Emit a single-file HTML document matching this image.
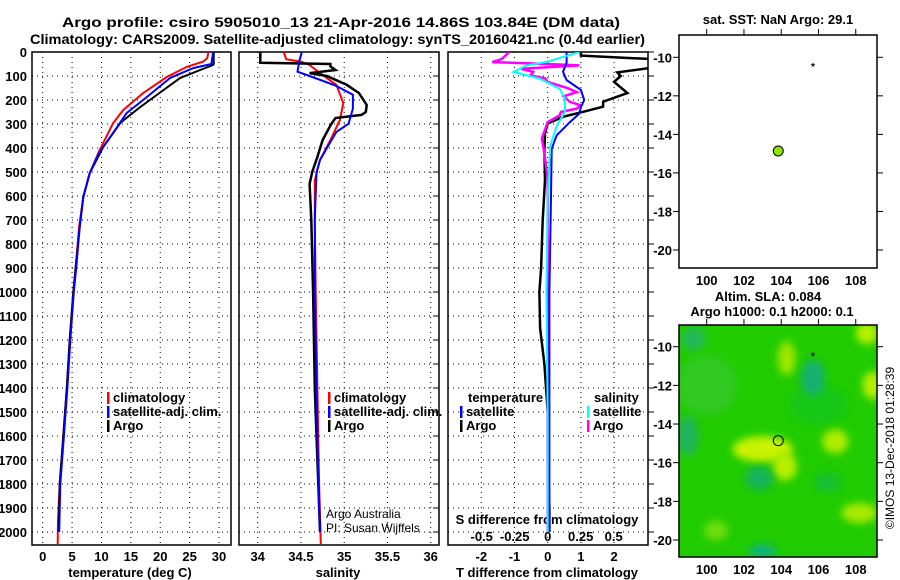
<!DOCTYPE html>
<html><head><meta charset="utf-8"><style>
html,body{margin:0;padding:0;background:#fff}
svg{display:block;font-family:"Liberation Sans",sans-serif}
.b{font-weight:bold}
</style></head><body>
<svg id="s" width="900" height="580" viewBox="0 0 900 580" xmlns="http://www.w3.org/2000/svg">
<defs>
<clipPath id="c1"><rect x="32" y="52" width="199" height="493"/></clipPath>
<clipPath id="c2"><rect x="239" y="52" width="200" height="493"/></clipPath>
<clipPath id="c3"><rect x="448" y="52" width="200" height="493"/></clipPath>
<clipPath id="cm2"><rect x="679" y="325" width="198" height="232"/></clipPath>
<filter id="bl" x="-50%" y="-50%" width="200%" height="200%"><feGaussianBlur stdDeviation="4"/></filter>
</defs>
<text x="62" y="27" textLength="558" lengthAdjust="spacingAndGlyphs" class="b" font-size="14">Argo profile: csiro 5905010_13 21-Apr-2016 14.86S 103.84E (DM data)</text>
<text x="30" y="44" textLength="615" lengthAdjust="spacingAndGlyphs" class="b" font-size="14">Climatology: CARS2009. Satellite-adjusted climatology: synTS_20160421.nc (0.4d earlier)</text>
<g id="g"></g>
</svg>
<script>
// ---- data ----
const depthTicks = [0,100,200,300,400,500,600,700,800,900,1000,1100,1200,1300,1400,1500,1600,1700,1800,1900,2000];
const tempTicks = [0,5,10,15,20,25,30];
const salTicks = [34,34.5,35,35.5,36];
const salTickLabels = ["34","34.5","35","35.5","36"];
const tdTicks = [-2,-1,0,1,2];
const sdTicks = [-0.5,-0.25,0,0.25,0.5];
const sdTickLabels = ["-0.5","-0.25","0","0.25","0.5"];
const latTicks = [-10,-12,-14,-16,-18,-20];
const lonTicks = [100,102,104,106,108];

const tArgoDepth = [0,50,54,75,108,179,229,262,296,396,505,604,729,900,1000,1200,1400,1600,1800,2000];
const tArgo      = [29.1,29.1,29.0,26.8,23.4,19.4,16.6,14.9,13.2,10.3,8.0,6.9,6.3,5.6,5.2,4.6,4.1,3.5,2.9,2.7];
const tClimDepth = [0,25,40,62,104,171,242,296,408,505,604,729,900,1000,1200,1400,1600,1800,1950,2050];
const tClim      = [28.2,28.0,27.3,24.5,21.1,17.1,13.7,12.0,9.7,8.0,6.9,6.2,5.6,5.2,4.6,4.1,3.5,2.9,2.6,2.55];
const tSatDepth  = [0,50,67,108,188,254,354,420,505,604,729,900,1000,1200,1400,1600,1800,2000];
const tSat       = [29.0,28.7,25.6,21.7,17.7,14.3,11.5,9.6,8.0,6.9,6.3,5.7,5.3,4.7,4.2,3.6,3.0,2.8];

const sArgoDepth = [0,45,50,60,75,88,100,137,171,221,250,262,275,300,367,437,500,550,700,1000,1400,1600,1800,2000];
const sArgo      = [34.03,34.03,34.84,34.84,34.9,34.6,34.8,35.03,35.17,35.26,35.25,35.2,34.9,34.85,34.75,34.69,34.63,34.6,34.62,34.64,34.66,34.68,34.70,34.72];
const sClimDepth = [0,30,40,54,88,137,213,283,367,450,535,700,1000,1400,1800,2050];
const sClim      = [34.30,34.33,34.5,34.6,34.72,34.91,34.99,34.95,34.84,34.72,34.66,34.66,34.67,34.69,34.71,34.73];
const sSatDepth  = [0,40,82,100,140,178,236,299,333,400,450,500,700,1000,1400,1800,2000];
const sSat       = [34.51,34.48,34.46,34.6,34.9,35.1,35.1,35.05,34.91,34.8,34.72,34.68,34.66,34.66,34.68,34.70,34.72];

const dTArgoDepth = [0,15,30,64,85,100,124,171,207,228,249,270,298,340,410,535,700,900,1000,1150,1300,1500,1700,1900,2000];
const dTArgo      = [1.0,1.0,3.2,3.2,2.1,2.2,2.0,2.4,1.67,1.67,1.07,0.46,0.0,-0.08,-0.1,-0.08,-0.15,-0.2,-0.25,-0.23,-0.1,0.0,0.0,0.05,0.05];
const dTSatDepth  = [0,45,82,117,158,200,230,257,292,347,403,600,1000,1400,1800,2000];
const dTSat       = [0.57,0.57,0.46,0.57,1.0,1.1,1.0,0.95,0.67,0.27,0.12,0.1,0.05,0.05,0.05,0.05];
const dSArgoDepth = [0,30,42,50,56,70,83,97,110,125,150,167,185,208,222,236,250,264,292,361,403,528,800,1200,1600,2000];
const dSArgo      = [-0.29,-0.35,-0.42,0.0,0.24,-0.2,-0.11,-0.13,-0.02,0.0,0.15,0.22,0.12,0.17,0.25,0.22,0.1,0.09,0.0,-0.045,-0.03,0.0,0.0,0.0,0.0,0.0];
const dSSatDepth  = [0,20,40,56,83,111,153,194,250,306,389,600,1000,1500,2000];
const dSSat       = [0.24,0.12,0.0,-0.16,-0.26,-0.06,0.09,0.13,0.13,0.07,0.02,0.0,-0.01,0.0,0.0];

const floatLon = [103.84], floatLat = [-14.86];
const prevLon = [105.7], prevLat = [-10.5];

// ---- axis functions ----
const yD = d => 52 + d*0.24;
const xT = t => 42.7 + t*5.877;
const xS = s => 257.7 + (s-34)*86.5;
const xdT = v => 547.7 + v*33.2;
const xdS = v => 547.7 + v*132;
const latY1 = la => 57.3 + (-10-la)*19.27;
const latY2 = la => 346.7 + (-10-la)*19.33;
const lonX = lo => 706.7 + (lo-100)*18.63;

const NS="http://www.w3.org/2000/svg";
const G=document.getElementById('g');
function el(tag,at,parent){const e=document.createElementNS(NS,tag);for(const k in at)e.setAttribute(k,at[k]);(parent||G).appendChild(e);return e;}
function txt(x,y,s,at,parent){const e=el('text',Object.assign({x:x,y:y},at),parent);e.textContent=s;return e;}

function line(xs,ds,fx,color,w,clip,name){
  const pts=xs.map((v,i)=>fx(v).toFixed(1)+','+yD(ds[i]).toFixed(1)).join(' ');
  const p=el('polyline',{points:pts,fill:'none',stroke:color,'stroke-width':w,'clip-path':'url(#'+clip+')','stroke-linejoin':'miter'});
  
  
}

function panel(x0,x1,clip,name){
  const g=el('g',{});
  
  
  depthTicks.forEach(d=>{el('line',{x1:x0,x2:x1,y1:yD(d),y2:yD(d),stroke:'#000','stroke-width':1,'stroke-dasharray':'1,4'},g);});
  el('rect',{x:x0,y:52,width:x1-x0,height:493,fill:'none',stroke:'#000','stroke-width':1.5},g);
  return g;
}

// panel 1 temperature
const p1=panel(32,231,'c1','temperature-panel');
tempTicks.forEach(t=>{el('line',{x1:xT(t),x2:xT(t),y1:52,y2:545,stroke:'#000','stroke-dasharray':'1,4'},p1);
  const l=txt(xT(t),561,String(t),{'text-anchor':'middle','font-size':13,class:'b'},p1);
  
  });
depthTicks.forEach(d=>{const l=txt(27,yD(d)+5,String(d),{'text-anchor':'end','font-size':13,class:'b'},p1);
  
  });
const xt1=txt(130,577,'temperature (deg C)',{'text-anchor':'middle','font-size':13,class:'b'},p1);


line(tClim,tClimDepth,xT,'#f00',2,'c1','temp-climatology-line');
line(tArgo,tArgoDepth,xT,'#000',2,'c1','temp-argo-line');
line(tSat,tSatDepth,xT,'#00f',2,'c1','temp-satellite-line');

// panel 2 salinity
const p2=panel(239,439,'c2','salinity-panel');
salTicks.forEach((s,i)=>{el('line',{x1:xS(s),x2:xS(s),y1:52,y2:545,stroke:'#000','stroke-dasharray':'1,4'},p2);
  const l=txt(xS(s),561,salTickLabels[i],{'text-anchor':'middle','font-size':13,class:'b'},p2);
  
  });
depthTicks.forEach(d=>{el('line',{x1:433,x2:439,y1:yD(d),y2:yD(d),stroke:'#000'},p2);});
const xt2=txt(338,577,'salinity',{'text-anchor':'middle','font-size':13,class:'b'},p2);


line(sClim,sClimDepth,xS,'#f00',2,'c2','sal-climatology-line');
line(sArgo,sArgoDepth,xS,'#000',2.5,'c2','sal-argo-line');
line(sSat,sSatDepth,xS,'#00f',2,'c2','sal-satellite-line');
const cr1=txt(326,518,'Argo Australia',{'font-size':12},p2);


const cr2=txt(326,532,'PI: Susan Wijffels',{'font-size':12},p2);



// panel 3 differences
const p3=panel(448,648,'c3','difference-panel');
tdTicks.forEach(t=>{el('line',{x1:xdT(t),x2:xdT(t),y1:52,y2:545,stroke:'#000','stroke-dasharray':'1,4'},p3);
  const l=txt(xdT(t),561,String(t),{'text-anchor':'middle','font-size':13,class:'b'},p3);
  
  });
sdTicks.forEach((s,i)=>{const l=txt(xdS(s),541,sdTickLabels[i],{'text-anchor':'middle','font-size':13,class:'b'},p3);
  
  });
depthTicks.forEach(d=>{el('line',{x1:648,x2:654,y1:yD(d),y2:yD(d),stroke:'#000'},p3);});
const st=txt(547,524,'S difference from climatology',{'text-anchor':'middle','font-size':13,class:'b'},p3);


const tt=txt(547,577,'T difference from climatology',{'text-anchor':'middle','font-size':13,class:'b'},p3);


line(dTArgo,dTArgoDepth,xdT,'#000',2.5,'c3','tdiff-argo-line');
line(dSArgo,dSArgoDepth,xdS,'#f0f',2.5,'c3','sdiff-argo-line');
line(dTSat,dTSatDepth,xdT,'#00f',2,'c3','tdiff-satellite-line');
line(dSSat,dSSatDepth,xdS,'#0ff',2,'c3','sdiff-satellite-line');

// legends
function legend(x,y,items,name){
  const g=el('g',{});
  
  
  items.forEach((it,i)=>{
    if(it[1]) el('rect',{x:x,y:y+i*14-10,width:2.5,height:12,fill:it[1]},g);
    const t=txt(x+(it[1]?6:0),y+i*14,it[0],{'font-size':13,class:'b'},g);
    
    
  });
}
legend(107,402,[['climatology','#f00'],['satellite-adj. clim.','#00f'],['Argo','#000']],'temp-legend');
legend(328,402,[['climatology','#f00'],['satellite-adj. clim.','#00f'],['Argo','#000']],'salinity-legend');
legend(468,402,[['temperature',null]],'tdiff-legend-header');
legend(460,416,[['satellite','#00f'],['Argo','#000']],'tdiff-legend');
legend(594,402,[['salinity',null]],'sdiff-legend-header');
legend(587,416,[['satellite','#0ff'],['Argo','#f0f']],'sdiff-legend');

// maps
function mapAxes(top,bot,latY,name){
  const g=el('g',{});
  
  
  el('rect',{x:679,y:top,width:198,height:bot-top,fill:'none',stroke:'#000','stroke-width':1.5},g);
  latTicks.forEach(la=>{const y=latY(la);
    el('line',{x1:673,x2:679,y1:y,y2:y,stroke:'#000'},g);
    el('line',{x1:877,x2:883,y1:y,y2:y,stroke:'#000'},g);
    const l=txt(672,y+5,String(la),{'text-anchor':'end','font-size':13,class:'b'},g);
    
    });
  lonTicks.forEach(lo=>{const x=lonX(lo);
    el('line',{x1:x,x2:x,y1:top-6,y2:top,stroke:'#000'},g);
    const l=txt(x,bot+17,String(lo),{'text-anchor':'middle','font-size':13,class:'b'},g);
    
    });
  return g;
}
// heatmap background for map 2
const hm=el('g',{'clip-path':'url(#cm2)'});


el('rect',{x:679,y:325,width:198,height:232,fill:'#20cc00'},hm);
const blobs=[[100,-12,30,30,'#30c820'],[106,-13,30,20,'#18c818'],[103,-15.3,30,13,'#c8f200'],[104.2,-16.2,12,14,'#b8ee00'],[106.9,-14.9,13,12,'#b0ec00'],[108.2,-18.6,18,10,'#a8ea00'],[108.9,-12,10,14,'#b4ee00'],[104.3,-10.6,9,17,'#9ee600'],[108.6,-9.3,11,11,'#b8f000'],
 [105.7,-11.6,12,18,'#18b070'],[102.8,-16.8,14,12,'#18b45a'],[99,-14.6,10,20,'#20b260'],[103,-20.6,14,8,'#10b478'],[99.3,-9.6,12,12,'#22b858'],[106.5,-17,14,10,'#18c030'],[100.5,-19.5,12,10,'#70dc10']];
blobs.forEach(b=>{el('ellipse',{cx:lonX(b[0]),cy:latY2(b[1]),rx:b[2],ry:b[3],fill:b[4],filter:'url(#bl)'},hm);});

const m1=mapAxes(35,268,latY1,'sst-map');
const m2=mapAxes(325,557,latY2,'sla-map');
const mt1=txt(778,24,'sat. SST: NaN Argo: 29.1',{'text-anchor':'middle','font-size':13,class:'b'});


const mt2=txt(768,301,'Altim. SLA: 0.084',{'text-anchor':'middle','font-size':13,class:'b'});


const mt3=txt(772,316,'Argo h1000: 0.1 h2000: 0.1',{'text-anchor':'middle','font-size':13,class:'b'});



const f1=el('circle',{cx:lonX(floatLon[0]),cy:latY1(floatLat[0]),r:5,fill:'#8ee600',stroke:'#000','stroke-width':1});


const f2=el('circle',{cx:lonX(floatLon[0]),cy:latY2(floatLat[0]),r:5,fill:'none',stroke:'#000','stroke-width':1});


const pv1=txt(lonX(prevLon[0]),latY1(prevLat[0])+3,'*',{'text-anchor':'middle','font-size':10,class:'b'});


const pv2=txt(lonX(prevLon[0]),latY2(prevLat[0])+3,'*',{'text-anchor':'middle','font-size':10,class:'b'});



const cp=txt(0,0,'©IMOS 13-Dec-2018 01:28:39',{'text-anchor':'middle','font-size':12,transform:'translate(894,448) rotate(-90)'});


</script>
</body></html>
